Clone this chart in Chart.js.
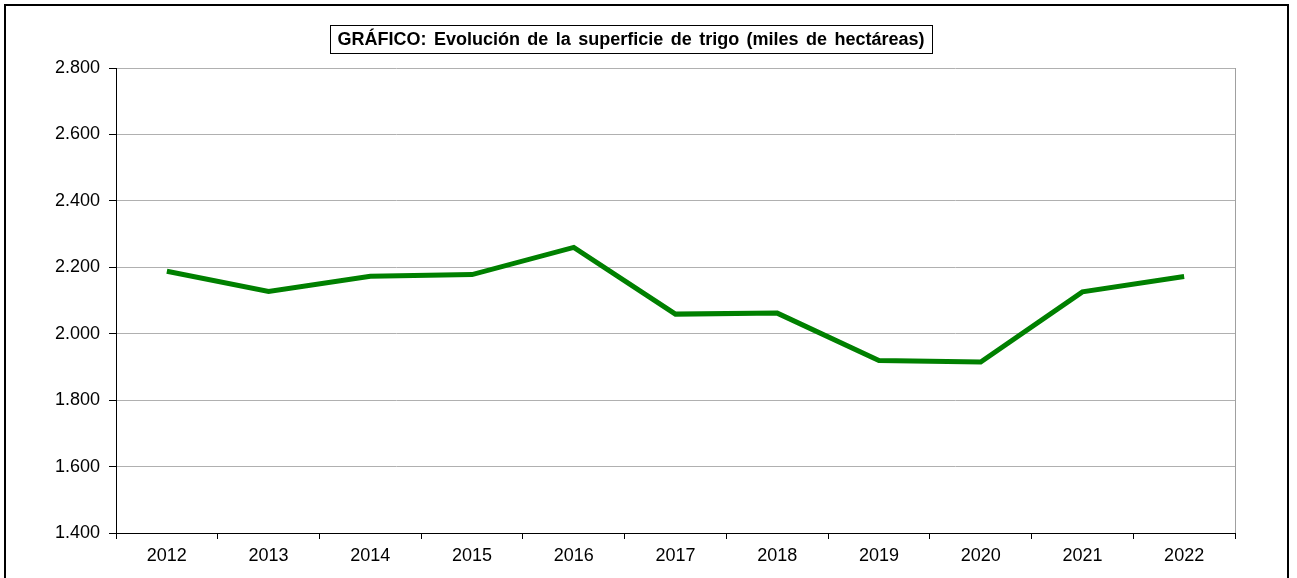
<!DOCTYPE html>
<html>
<head>
<meta charset="utf-8">
<script src="https://cdn.jsdelivr.net/npm/chart.js@4"></script>
<style>
  body { margin: 0; background: #fff; }
  #wrap { width: 1297px; height: 578px; }
</style>
</head>
<body>
<div id="wrap"><canvas id="chart" width="1297" height="578"></canvas></div>
<script>
const years = ['2012', '2013', '2014', '2015', '2016', '2017', '2018', '2019', '2020', '2021', '2022'];
const superficie = [2188, 2127, 2173, 2178, 2260, 2059, 2062, 1919, 1915, 2126, 2172];
const titulo = 'GRÁFICO: Evolución de la superficie de trigo (miles de hectáreas)';
const yMin = 1400, yMax = 2800, yStep = 200;

// marco exterior, caja del titulo y borde derecho gris
const decoPlugin = {
  id: 'deco',
  afterDraw(chart) {
    const ctx = chart.ctx;
    const area = chart.chartArea;
    ctx.save();
    ctx.strokeStyle = '#a0a0a0';
    ctx.lineWidth = 1;
    ctx.beginPath();
    ctx.moveTo(Math.round(area.right) + 0.5, area.top);
    ctx.lineTo(Math.round(area.right) + 0.5, area.bottom);
    ctx.stroke();

    ctx.strokeStyle = '#000';
    ctx.lineWidth = 2;
    ctx.strokeRect(5, 5, 1283, 600);

    ctx.font = 'bold 18px "Liberation Sans", Arial, sans-serif';
    ctx.fillStyle = '#000';
    ctx.textAlign = 'center';
    ctx.textBaseline = 'middle';
    // Excel deja más espacio entre palabras
    const espacios = titulo.split(' ').length - 1;
    const base = ctx.measureText(titulo).width;
    ctx.wordSpacing = Math.max(0, (587 - base) / espacios) + 'px';
    const w = ctx.measureText(titulo).width;
    const cx = 631, cy = 40;
    ctx.fillText(titulo, cx, cy);
    ctx.lineWidth = 1;
    ctx.strokeRect(330.5, 25.5, Math.round(Math.max(w + 14, 602)), 28);
    ctx.restore();
  }
};

new Chart(document.getElementById('chart'), {
  type: 'line',
  data: {
    labels: years,
    datasets: [{
      label: 'Superficie',
      data: superficie,
      borderColor: '#008000',
      borderWidth: 5,
      pointRadius: 0,
      tension: 0,
      fill: false
    }]
  },
  options: {
    responsive: false,
    animation: false,
    layout: { padding: { left: 10, top: 68, right: 62, bottom: 0 } },
    plugins: {
      legend: { display: false },
      title: { display: false },
      tooltip: { enabled: false }
    },
    scales: {
      x: {
        offset: true,
        afterFit: (s) => { s.height = 45; },
        grid: {
          offset: true,
          drawOnChartArea: false,
          color: '#000',
          tickLength: 6
        },
        border: { color: '#000' },
        ticks: {
          color: '#000',
          padding: 6,
          font: { family: '"Liberation Sans", Arial, sans-serif', size: 18 }
        }
      },
      y: {
        min: yMin,
        max: yMax,
        afterFit: (s) => { s.width = 106; },
        grid: {
          color: '#b0b0b0',
          tickColor: '#000',
          tickLength: 7
        },
        border: { color: '#000' },
        ticks: {
          stepSize: yStep,
          color: '#000',
          padding: 9,
          font: { family: '"Liberation Sans", Arial, sans-serif', size: 18 },
          callback: (v) => v.toLocaleString('de-DE', { minimumFractionDigits: 0 }).replace(',', '.')
        }
      }
    }
  },
  plugins: [decoPlugin]
});
</script>
</body>
</html>
